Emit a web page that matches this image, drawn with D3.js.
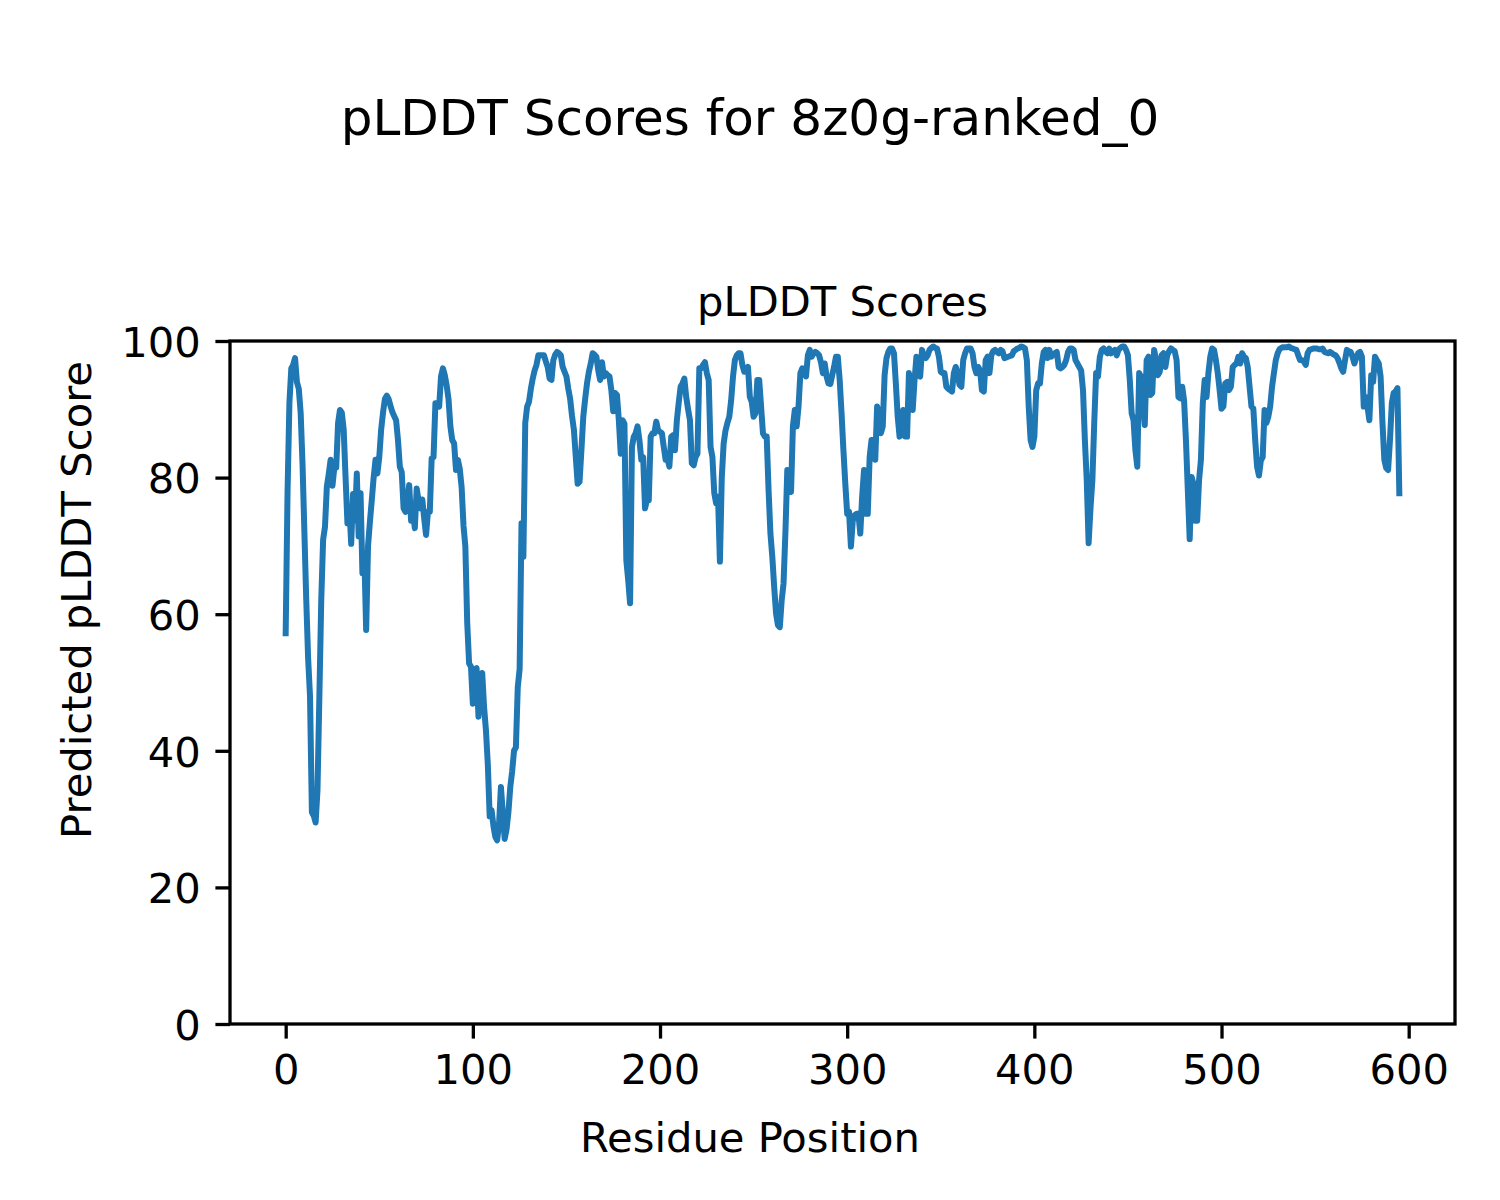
<!DOCTYPE html>
<html>
<head>
<meta charset="utf-8">
<script src="https://cdn.jsdelivr.net/npm/d3@7"></script>
<style>
  html, body { margin: 0; padding: 0; background: #fff; }
  svg text { font-family: "DejaVu Sans", sans-serif; fill: #000; }
</style>
</head>
<body>
<svg id="chart" width="1500" height="1200"></svg>
<script>
const figTitle = "pLDDT Scores for 8z0g-ranked_0";
const axTitle = "pLDDT Scores";
const xLabel = "Residue Position";
const yLabel = "Predicted pLDDT Score";
const xTicks = [0, 100, 200, 300, 400, 500, 600];
const yTicks = [0, 20, 40, 60, 80, 100];

// pLDDT per residue (residue index 0..595)
const plddt = [
  57.2, 78, 91, 96, 96.5, 97.5, 94, 93, 89.5, 82,
  72, 62, 53.5, 48, 31, 30.5, 29.5, 34.3, 48, 62,
  70.9, 72.8, 78.7, 80.5, 82.6, 78.8, 81.5, 81.5, 88, 89.9,
  89.5, 87, 80, 73.3, 75.7, 70.3, 77.6, 73.7, 80.6, 71.4,
  77.7, 66, 68.9, 57.7, 70, 73.5, 76.7, 80, 82.6, 80.6,
  83, 87, 89.5, 91.5, 92, 91.5, 90.5, 89.6, 89, 88.4,
  85.5, 81.6, 80.8, 75.5, 75, 76.5, 78.9, 73.7, 75, 72.6,
  78.4, 76.6, 75.5, 76.8, 74, 71.6, 75, 75, 82.8, 83,
  90.9, 90.9, 90.4, 94.8, 96, 95, 93.5, 91.5, 87.5, 85.5,
  85, 81.1, 82.6, 81.3, 78.6, 73, 69.9, 58.7, 52.8, 52.3,
  46.9, 51.9, 52.1, 45, 49.9, 51.4, 46.4, 43, 38, 30.4,
  31.3, 29, 27.4, 26.9, 29.3, 34.7, 30.9, 27.1, 28.5, 31,
  34.7, 37, 40, 40.5, 49.3, 52, 73.3, 68.4, 88, 90.4,
  91.1, 93, 94.5, 95.7, 96.5, 97.9, 97.9, 97.9, 97.9, 97,
  96.2, 94.5, 94.3, 97.2, 98, 98.4, 98.2, 97.9, 96.2, 95.5,
  94.8, 93, 91.5, 89, 87, 83, 79.1, 79.4, 84, 88.9,
  91.5, 93.8, 95.5, 96.7, 98.2, 98, 97.7, 95.7, 94.3, 96.9,
  94.8, 95.3, 95, 94.8, 92.8, 89.7, 92.4, 92.1, 88.4, 83.5,
  88.4, 87.9, 67.9, 65, 61.6, 84.5, 86, 86.5, 87.5, 85.5,
  82.6, 83, 75.5, 76.7, 76.7, 86, 86.5, 86.5, 88.2, 86.9,
  86.7, 86.5, 84.5, 82.6, 82.8, 81.6, 86, 86.2, 84, 88.4,
  91, 93.3, 93.8, 94.5, 91.8, 90, 88.4, 82.1, 81.8, 83,
  83.5, 96, 96, 96.5, 96.9, 95.3, 94.3, 84.5, 83, 77.7,
  76.2, 77.2, 67.7, 80, 85, 86.9, 88, 88.9, 91.3, 94.8,
  97.2, 97.9, 98.2, 98.2, 96.5, 95.5, 95.8, 96.2, 91.8, 91.1,
  88.9, 89.4, 94.3, 94.3, 90.4, 86.5, 86, 86, 78.2, 71.8,
  68.4, 64, 60.1, 58.4, 58.1, 62, 64.5, 72, 81.1, 80.1,
  77.9, 87.5, 89.9, 87.5, 90.4, 95.3, 96, 95.5, 94.8, 97.9,
  98.7, 97.7, 98.2, 98.4, 98.2, 97.9, 96.9, 95.3, 96.7, 94.8,
  93.8, 93.7, 95, 96.2, 97.7, 97.7, 94.3, 89.4, 84, 79.1,
  74.7, 75, 69.9, 73.7, 74.5, 74.7, 74.7, 71.8, 77.2, 81.1,
  74.7, 74.7, 83, 85.5, 85.5, 82.6, 90.4, 89.4, 86.5, 87.5,
  95, 97.5, 98.4, 98.9, 98.9, 98.2, 93.8, 88.9, 86, 86.5,
  89.9, 86, 86, 95.3, 93.3, 89.9, 94.3, 97.7, 95, 94.8,
  98.7, 97.7, 97.5, 97.9, 98.7, 99, 99.2, 99, 98.9, 97.7,
  95.5, 95.3, 95.3, 93.3, 93, 92.8, 92.6, 95.3, 96.2, 95.3,
  93.6, 93.3, 97.2, 98.2, 98.9, 98.9, 98.9, 98.2, 96.2, 95.3,
  96.2, 95.7, 92.8, 92.6, 97.2, 97.7, 95.3, 97.9, 98.5, 98.7,
  98.4, 98.2, 98.7, 98.5, 97.5, 97.6, 97.7, 97.8, 97.9, 98.5,
  98.7, 98.9, 99, 99.2, 99.1, 98.9, 97.2, 90.4, 85.5, 84.5,
  86, 92.8, 93.8, 93.8, 96.7, 98.4, 98.7, 97.5, 98.7, 97.7,
  98, 98.2, 98.4, 96.2, 96, 96.2, 96.5, 97.2, 98.4, 98.9,
  98.9, 98.7, 97.2, 96.7, 96.2, 95.7, 92.8, 85.5, 79.6, 70.4,
  75.5, 79.6, 88, 95.3, 94.8, 97.7, 98.7, 98.9, 98.5, 98.2,
  98.9, 98.2, 98.5, 98.7, 97.9, 98.7, 99, 99.2, 99.2, 98.7,
  97.9, 94.3, 89.4, 88.4, 84, 81.6, 95.3, 94.8, 91.3, 87.7,
  97.2, 97.7, 92.1, 92.4, 98.7, 97.2, 95, 95.5, 97.9, 98.2,
  96.2, 97.9, 98.5, 98.9, 98.7, 98.5, 97.2, 91.8, 91.6, 93.3,
  91.3, 85.5, 78.2, 71, 80.1, 79.1, 73.7, 73.7, 79.6, 82.6,
  90.9, 94.3, 91.8, 95.3, 97.7, 98.9, 98.7, 97.2, 95.3, 92.8,
  90.1, 90.4, 93.8, 94, 92.8, 93.3, 96.2, 96.5, 96.7, 97.7,
  96.7, 98.2, 97.7, 97.5, 96.2, 93.3, 90.4, 90.1, 85.5, 81.6,
  80.3, 82.5, 83, 89.9, 88, 88.9, 90.4, 93.3, 95.3, 97.2,
  98.2, 98.8, 99, 99.1, 99.1, 99.1, 99.2, 99, 98.9, 98.8,
  98.7, 97.9, 97.2, 97.2, 97, 96.5, 98.2, 98.7, 98.8, 98.9,
  98.9, 98.9, 98.8, 98.8, 98.9, 98.4, 98.3, 98.2, 98.4, 98.2,
  98, 97.9, 97.5, 96.8, 96, 95.5, 97.2, 98.7, 98.5, 98.4,
  97.7, 96.7, 97.5, 98.2, 98.4, 97.7, 90.4, 91.8, 90.4, 88.4,
  95, 94, 97.7, 97.2, 96.7, 94.8, 88, 82.6, 81.4, 81.1,
  85.5, 90.9, 92.4, 92.6, 93.1, 77.7
];
const residues = plddt.map((_, i) => i);

const svg = d3.select("#chart");
const W = 1500, H = 1200;
const plot = { left: 230, right: 1455, top: 341, bottom: 1024 };
const FS = 41.67;

const n = plddt.length - 1;
const pad = n * 0.05;
const x = d3.scaleLinear().domain([-pad, n + pad]).range([plot.left, plot.right]);
const y = d3.scaleLinear().domain([0, 100]).range([plot.bottom, plot.top]);

svg.append("rect").attr("width", W).attr("height", H).attr("fill", "#fff");

// clip
svg.append("clipPath").attr("id", "clip")
  .append("rect").attr("x", plot.left).attr("y", plot.top)
  .attr("width", plot.right - plot.left).attr("height", plot.bottom - plot.top);

const line = d3.line().x((d, i) => x(residues[i])).y(d => y(d));
svg.append("path")
  .datum(plddt)
  .attr("clip-path", "url(#clip)")
  .attr("d", line)
  .attr("fill", "none")
  .attr("stroke", "#1f77b4")
  .attr("stroke-width", 6)
  .attr("stroke-linejoin", "round")
  .attr("stroke-linecap", "square");

// X axis
const xAxis = d3.axisBottom(x).tickValues(xTicks).tickSize(14.6).tickPadding(14.6);
const gx = svg.append("g").attr("transform", `translate(0,${plot.bottom})`).call(xAxis);
gx.select(".domain").remove();
gx.selectAll(".tick line").attr("stroke", "#000").attr("stroke-width", 3.3);
gx.selectAll(".tick text").attr("font-size", FS).attr("font-family", "DejaVu Sans")
  .attr("dy", null).attr("y", 14.6 + 14.6 + FS * 0.729).attr("fill", "#000");

// Y axis
const yAxis = d3.axisLeft(y).tickValues(yTicks).tickSize(14.6).tickPadding(14.6);
const gy = svg.append("g").attr("transform", `translate(${plot.left},0)`).call(yAxis);
gy.select(".domain").remove();
gy.selectAll(".tick line").attr("stroke", "#000").attr("stroke-width", 3.3);
gy.selectAll(".tick text").attr("font-size", FS).attr("font-family", "DejaVu Sans")
  .attr("dy", null).attr("y", FS * 0.729 / 2).attr("fill", "#000");

// Spines
svg.append("rect")
  .attr("x", plot.left).attr("y", plot.top)
  .attr("width", plot.right - plot.left).attr("height", plot.bottom - plot.top)
  .attr("fill", "none").attr("stroke", "#000").attr("stroke-width", 3.3)
  .attr("stroke-linejoin", "miter");

// Titles
svg.append("text").attr("x", 750).attr("y", 135).attr("text-anchor", "middle")
  .attr("font-size", 50).text(figTitle);
svg.append("text").attr("x", (plot.left + plot.right) / 2).attr("y", 316).attr("text-anchor", "middle")
  .attr("font-size", FS).text(axTitle);

// Axis labels (figure-centred)
svg.append("text").attr("x", 750).attr("y", 1152).attr("text-anchor", "middle")
  .attr("font-size", FS).text(xLabel);
svg.append("text").attr("transform", "translate(91,600) rotate(-90)").attr("text-anchor", "middle")
  .attr("font-size", FS).text(yLabel);
</script>
</body>
</html>
